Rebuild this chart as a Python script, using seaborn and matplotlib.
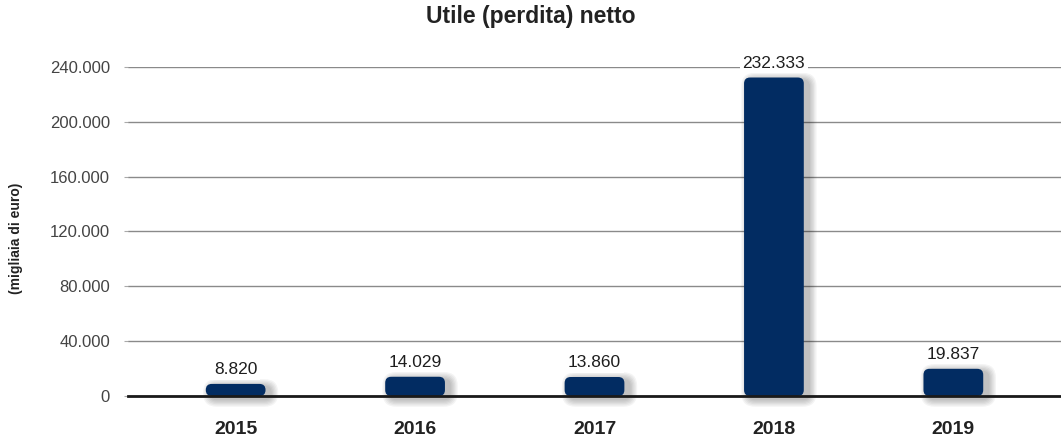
import matplotlib
matplotlib.use("Agg")
import matplotlib.pyplot as plt
from matplotlib.patches import FancyBboxPatch
from matplotlib import font_manager
import seaborn as sns
import pandas as pd

# Net income (thousands of euro)
years = ["2015", "2016", "2017", "2018", "2019"]
utile = [8820, 14029, 13860, 232333, 19837]
value_labels = ["8.820", "14.029", "13.860", "232.333", "19.837"]
yticks = [0, 40000, 80000, 120000, 160000, 200000, 240000]
ytick_labels = ["0", "40.000", "80.000", "120.000", "160.000", "200.000", "240.000"]

df = pd.DataFrame({"anno": years, "utile": utile})

sns.set_theme(style="white")
names = {f.name for f in font_manager.fontManager.ttflist}
narrow = "Liberation Sans Narrow" if "Liberation Sans Narrow" in names else "Liberation Sans"
plt.rcParams["font.family"] = [narrow, "DejaVu Sans"]

BAR = "#022c62"
fig = plt.figure(figsize=(10.61, 4.41), dpi=100)
ax = fig.add_axes([128 / 1061, 1 - 396 / 441, 1 - 128 / 1061, (396 - 67) / 441])

sns.barplot(data=df, x="anno", y="utile", color=BAR, width=0.333, ax=ax,
            saturation=1, zorder=3)
ax.set_xlim(-0.6, 4.6)
ax.set_ylim(0, 240000)

# pixel to data conversion for rounded corners
px_x = 5.2 / 933
px_y = 240000 / 329
aspect = px_y / px_x

for p in list(ax.patches):
    x0, y0 = p.get_x(), p.get_y()
    w, h = p.get_width(), p.get_height()
    p.set_visible(False)
    r = min(6, h / px_y / 2)
    # soft drop shadow, offset to the lower right
    for i in range(6):
        pad = (i + 1) * 1.3
        sh = FancyBboxPatch((x0 + 5 * px_x, y0 - 3 * px_y), w, h,
                            boxstyle=f"round,pad={pad * px_x},rounding_size={(r + pad) * px_x}",
                            mutation_aspect=aspect, fc="black", ec="none",
                            alpha=0.045, zorder=2, clip_on=False)
        ax.add_patch(sh)
    bar = FancyBboxPatch((x0, y0), w, h,
                         boxstyle=f"round,pad=0,rounding_size={r * px_x}",
                         mutation_aspect=aspect, fc=BAR, ec="none", zorder=3)
    ax.add_patch(bar)

for i, (v, lab) in enumerate(zip(utile, value_labels)):
    ax.annotate(lab, (i, v), xytext=(0, 5), textcoords="offset points",
                ha="center", va="bottom", fontsize=12.5, color="#1e1e1e",
                bbox=dict(boxstyle="square,pad=0.15", fc="white", ec="none"),
                zorder=5, annotation_clip=False)

ax.set_yticks(yticks)
ax.set_yticklabels(ytick_labels)
ax.yaxis.grid(True, color="#8a8a8a", linewidth=1, zorder=0)
ax.set_axisbelow(True)
for s in ["top", "right", "left"]:
    ax.spines[s].set_visible(False)
ax.spines["bottom"].set_color("#1a1a1a")
ax.spines["bottom"].set_linewidth(2)
ax.spines["bottom"].set_zorder(4)

ax.tick_params(axis="y", left=True, length=3, width=0.8, color="#aaaaaa",
               labelsize=12, labelcolor="#444444", pad=10)
ax.tick_params(axis="x", bottom=False, labelsize=14, labelcolor="#222222", pad=12)
for t in ax.get_xticklabels():
    t.set_fontweight("bold")

ax.set_xlabel("")
ax.set_ylabel("(migliaia di euro)", fontsize=10, fontweight="bold", color="#222222")
ax.yaxis.set_label_coords(-0.113, 0.48)

fig.text(0.5, 1 - 17 / 441, "Utile (perdita) netto", ha="center", va="center",
         fontsize=16.5, fontweight="bold", color="#222222",
         family=["Liberation Sans", "DejaVu Sans"])

fig.savefig("out.png", dpi=100)
